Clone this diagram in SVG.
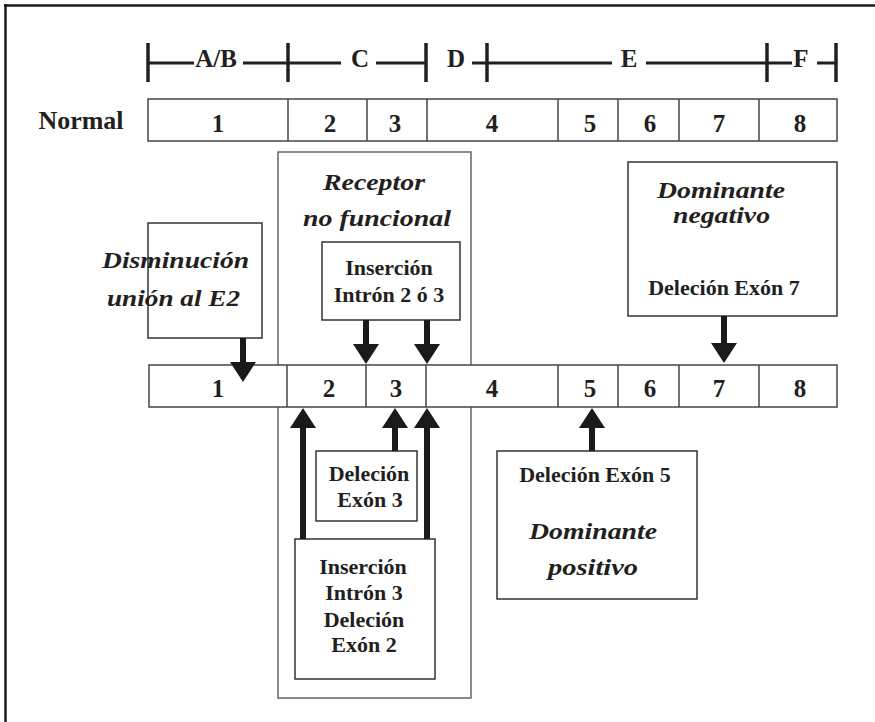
<svg xmlns="http://www.w3.org/2000/svg" width="875" height="722" viewBox="0 0 875 722">
<style>
  .bg{fill:#ffffff}
  .frame{stroke:#1a1a1a;stroke-width:2.5;fill:none}
  .scale{stroke:#231f20;stroke-width:3;fill:none}
  .tick{stroke:#231f20;stroke-width:3.5;fill:none}
  .row{fill:#ffffff;stroke:#444;stroke-width:1.5}
  .div{stroke:#444;stroke-width:1.5}
  .box{fill:#ffffff;stroke:#333;stroke-width:1.5}
  .outer{fill:none;stroke:#666;stroke-width:1.5}
  .b{font-family:"Liberation Serif","Times New Roman",serif;font-weight:bold;fill:#231f20;text-anchor:middle}
  .num{font-size:25px}
  .lab{font-size:22px}
  .it{font-family:"Liberation Serif","Times New Roman",serif;font-weight:bold;font-style:italic;font-size:24px;fill:#231f20;text-anchor:middle}
  .arr{stroke:#1a1a1a;stroke-width:6;fill:none;marker-end:url(#head)}
</style>
<defs>
  <marker id="head" markerUnits="userSpaceOnUse" viewBox="0 0 20 26" markerWidth="20" markerHeight="26" refX="2" refY="13" orient="auto">
    <path d="M0,0 L20,13 L0,26 z" fill="#1a1a1a"/>
  </marker>
</defs>
<rect class="bg" x="0" y="0" width="875" height="722"/>
<g id="frame">
  <line class="frame" x1="4" y1="5.5" x2="875" y2="5.5"/>
  <line class="frame" x1="5.5" y1="4" x2="5.5" y2="722"/>
</g>

<g id="scale">
  <line class="tick" x1="148" y1="43" x2="148" y2="82"/>
  <line class="tick" x1="288" y1="43" x2="288" y2="82"/>
  <line class="tick" x1="426" y1="43" x2="426" y2="82"/>
  <line class="tick" x1="487" y1="43" x2="487" y2="82"/>
  <line class="tick" x1="767" y1="43" x2="767" y2="82"/>
  <line class="tick" x1="836" y1="43" x2="836" y2="82"/>
  <line class="scale" x1="148" y1="63" x2="194" y2="63"/>
  <line class="scale" x1="243" y1="63" x2="341" y2="63"/>
  <line class="scale" x1="376" y1="63" x2="426" y2="63"/>
  <line class="scale" x1="472" y1="63" x2="612" y2="63"/>
  <line class="scale" x1="646" y1="63" x2="792" y2="63"/>
  <line class="scale" x1="817" y1="63" x2="836" y2="63"/>
  <text class="b num" x="216" y="67">A/B</text>
  <text class="b num" x="360" y="67">C</text>
  <text class="b num" x="456" y="67">D</text>
  <text class="b num" x="629" y="67">E</text>
  <text class="b num" x="801" y="67">F</text>
</g>

<g id="normal-row">
  <text class="b" style="font-size:26px" x="81" y="129">Normal</text>
  <rect class="row" x="148" y="99" width="689" height="42"/>
  <line class="div" x1="288" y1="99" x2="288" y2="141"/>
  <line class="div" x1="367" y1="99" x2="367" y2="141"/>
  <line class="div" x1="427" y1="99" x2="427" y2="141"/>
  <line class="div" x1="558" y1="99" x2="558" y2="141"/>
  <line class="div" x1="618" y1="99" x2="618" y2="141"/>
  <line class="div" x1="679" y1="99" x2="679" y2="141"/>
  <line class="div" x1="759" y1="99" x2="759" y2="141"/>
  <text class="b num" x="218" y="132">1</text>
  <text class="b num" x="330" y="132">2</text>
  <text class="b num" x="395" y="132">3</text>
  <text class="b num" x="492" y="132">4</text>
  <text class="b num" x="590" y="132">5</text>
  <text class="b num" x="650" y="132">6</text>
  <text class="b num" x="719" y="132">7</text>
  <text class="b num" x="800" y="132">8</text>
</g>

<g id="receptor-no-funcional">
  <rect class="outer" x="278" y="152" width="193" height="546"/>
  <text class="it" x="374" y="190" textLength="102" lengthAdjust="spacingAndGlyphs">Receptor</text>
  <text class="it" x="377" y="226" textLength="148" lengthAdjust="spacingAndGlyphs">no funcional</text>
</g>

<g id="disminucion">
  <rect class="box" x="148" y="223" width="114" height="115"/>
  <text class="it" x="175.5" y="268" textLength="147" lengthAdjust="spacingAndGlyphs">Disminución</text>
  <text class="it" x="173.5" y="306" textLength="133" lengthAdjust="spacingAndGlyphs">unión al E2</text>
</g>

<g id="insercion-intron-2-3">
  <rect class="box" x="322" y="242" width="138" height="78"/>
  <text class="b lab" x="389" y="275">Inserción</text>
  <text class="b lab" x="389" y="302">Intrón 2 ó 3</text>
</g>

<g id="dominante-negativo">
  <rect class="box" x="628" y="162" width="209" height="154"/>
  <text class="it" x="721" y="198" textLength="128" lengthAdjust="spacingAndGlyphs">Dominante</text>
  <text class="it" x="721.5" y="223" textLength="97" lengthAdjust="spacingAndGlyphs">negativo</text>
  <text class="b lab" x="724" y="295">Deleción Exón 7</text>
</g>

<g id="mutant-row">
  <rect class="row" x="149" y="365" width="688" height="42"/>
  <line class="div" x1="287" y1="365" x2="287" y2="407"/>
  <line class="div" x1="366" y1="365" x2="366" y2="407"/>
  <line class="div" x1="426" y1="365" x2="426" y2="407"/>
  <line class="div" x1="558" y1="365" x2="558" y2="407"/>
  <line class="div" x1="618" y1="365" x2="618" y2="407"/>
  <line class="div" x1="679" y1="365" x2="679" y2="407"/>
  <line class="div" x1="759" y1="365" x2="759" y2="407"/>
  <text class="b num" x="218" y="397">1</text>
  <text class="b num" x="329" y="397">2</text>
  <text class="b num" x="396" y="397">3</text>
  <text class="b num" x="492" y="397">4</text>
  <text class="b num" x="590" y="397">5</text>
  <text class="b num" x="650" y="397">6</text>
  <text class="b num" x="719" y="397">7</text>
  <text class="b num" x="800" y="397">8</text>
</g>

<g id="delecion-exon-3">
  <rect class="box" x="316" y="451" width="101" height="70"/>
  <text class="b lab" x="369" y="481">Deleción</text>
  <text class="b lab" x="370" y="507">Exón 3</text>
</g>

<g id="insercion-intron-3">
  <rect class="box" x="295" y="539" width="140" height="140"/>
  <text class="b lab" x="363" y="574">Inserción</text>
  <text class="b lab" x="364" y="600">Intrón 3</text>
  <text class="b lab" x="364" y="627">Deleción</text>
  <text class="b lab" x="364" y="652">Exón 2</text>
</g>

<g id="dominante-positivo">
  <rect class="box" x="497" y="451" width="200" height="148"/>
  <text class="b lab" x="595" y="482">Deleción Exón 5</text>
  <text class="it" x="593" y="539" textLength="128" lengthAdjust="spacingAndGlyphs">Dominante</text>
  <text class="it" x="593" y="575" textLength="90" lengthAdjust="spacingAndGlyphs">positivo</text>
</g>

<g id="connectors">
  <line class="arr" x1="243" y1="338" x2="243" y2="364"/>
  <line class="arr" x1="366" y1="320" x2="366" y2="346"/>
  <line class="arr" x1="427" y1="320" x2="427" y2="346"/>
  <line class="arr" x1="724" y1="316" x2="724" y2="345"/>
  <line class="arr" x1="303" y1="539" x2="303" y2="426"/>
  <line class="arr" x1="395" y1="451" x2="395" y2="426"/>
  <line class="arr" x1="427" y1="539" x2="427" y2="426"/>
  <line class="arr" x1="592" y1="451" x2="592" y2="426"/>
</g>
</svg>
